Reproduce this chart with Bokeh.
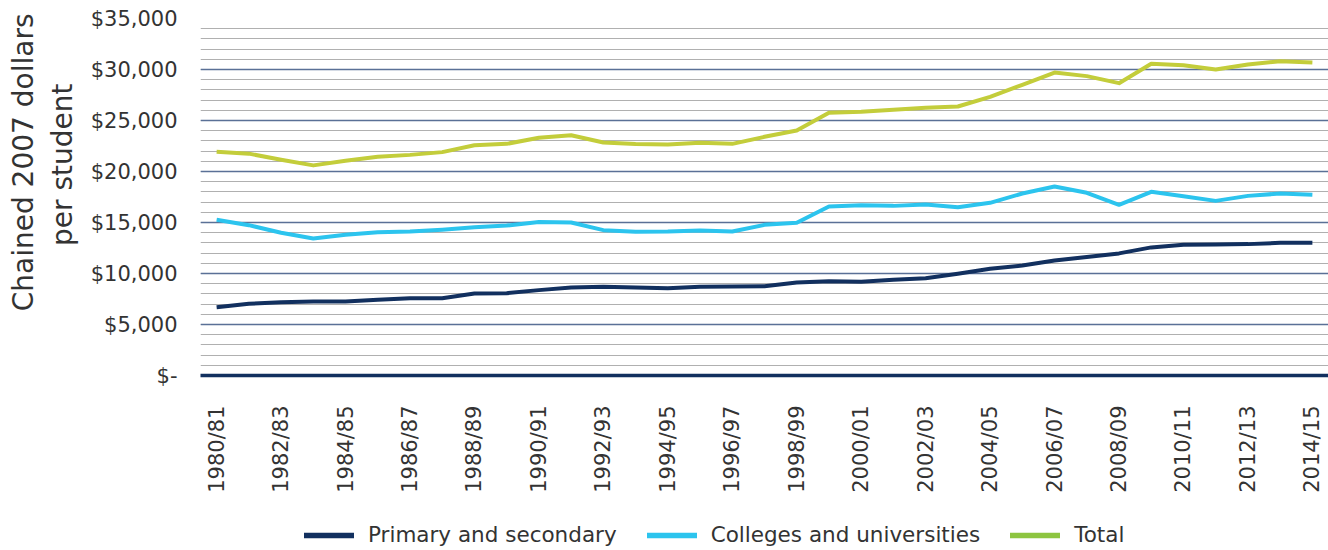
import math
from bokeh.plotting import figure
from bokeh.layouts import column
from bokeh.models import (ColumnDataSource, Range1d, FixedTicker, Title,
                          NumeralTickFormatter, Legend, LegendItem)
from bokeh.embed import file_html
from bokeh.resources import INLINE

# School years, 1980/81 .. 2014/15
years = [f"{y}/{str(y + 1)[-2:]}" for y in range(1980, 2015)]

# Spending per student, chained 2007 dollars
primary_secondary = [6700, 7030, 7190, 7250, 7250, 7420, 7580, 7580, 8040, 8070,
                     8370, 8630, 8690, 8630, 8560, 8690, 8730, 8760, 9120, 9250,
                     9200, 9380, 9540, 9970, 10460, 10780, 11270, 11620, 11970, 12560,
                     12820, 12850, 12880, 13010, 13010]
colleges_universities = [15260, 14740, 13990, 13430, 13790, 14050, 14120, 14300, 14540, 14700,
                         15050, 15000, 14250, 14100, 14120, 14220, 14120, 14770, 14970, 16570,
                         16700, 16630, 16760, 16500, 16930, 17840, 18530, 17910, 16730, 18010,
                         17580, 17120, 17610, 17840, 17710]
total = [21930, 21750, 21150, 20600, 21050, 21440, 21630, 21900, 22580, 22710,
         23300, 23560, 22840, 22700, 22650, 22810, 22710, 23400, 24020, 25750,
         25850, 26050, 26240, 26370, 27320, 28500, 29700, 29350, 28660, 30560,
         30420, 30000, 30490, 30820, 30690]

series_names = ["Primary and secondary", "Colleges and universities", "Total"]
series_cols = ["prim", "coll", "tot"]
line_colors = ["#12305f", "#2cc4ee", "#c3cd3b"]
key_colors = ["#12305f", "#2cc4ee", "#8dc540"]

FONT = "DejaVu Sans"
TEXT = "#333333"

# position of each school year along the x axis
year_pos = list(range(len(years)))

source = ColumnDataSource(dict(pos=year_pos, year=years, prim=primary_secondary,
                               coll=colleges_universities, tot=total))

p = figure(width=1328, height=510, output_backend="svg", toolbar_location=None,
           x_range=Range1d(-0.5, len(years) - 0.5), y_range=Range1d(0, 35000),
           min_border_left=200, min_border_right=0, min_border_top=18,
           min_border_bottom=135)
p.outline_line_color = None
p.background_fill_color = "white"
p.border_fill_color = "white"

for col, color in zip(series_cols, line_colors):
    p.line("pos", col, source=source, line_color=color, line_width=4,
           line_join="round")

# y axis
p.yaxis.ticker = FixedTicker(ticks=list(range(0, 35001, 5000)),
                             minor_ticks=list(range(0, 35001, 1000)))
p.yaxis.formatter = NumeralTickFormatter(format="$0,0")
p.yaxis.major_label_overrides = {0: "$-"}
p.yaxis.axis_line_color = None
p.yaxis.major_tick_line_color = None
p.yaxis.minor_tick_line_color = None
p.yaxis.major_label_standoff = 17
p.yaxis.major_label_text_font = FONT
p.yaxis.major_label_text_font_size = "21px"
p.yaxis.major_label_text_color = TEXT

# two-line y axis title, set a little above the middle
for text, off, gap in [("per student", 65, 18), ("Chained 2007 dollars", -5, -10)]:
    p.add_layout(Title(text=text, align="right", offset=off, text_font=FONT,
                       text_font_size="28px", text_font_style="normal",
                       text_color=TEXT, standoff=gap), "left")

p.ygrid.grid_line_color = "#5a7096"
p.ygrid.grid_line_width = 1.3
p.ygrid.minor_grid_line_color = "#b0b0b0"
p.ygrid.minor_grid_line_width = 1
p.xgrid.grid_line_color = None

# x axis: every other school year labelled
p.xaxis.ticker = FixedTicker(ticks=year_pos[::2])
p.xaxis.major_label_overrides = {i: years[i] for i in year_pos[::2]}
p.xaxis.major_label_orientation = math.pi / 2
p.xaxis.axis_line_color = "#12305f"
p.xaxis.axis_line_width = 3.5
p.xaxis.major_tick_line_color = None
p.xaxis.minor_tick_line_color = None
p.xaxis.major_label_standoff = 24
p.xaxis.major_label_text_font = FONT
p.xaxis.major_label_text_font_size = "21px"
p.xaxis.major_label_text_color = TEXT

# key strip under the chart; its series fall outside the strip's ranges,
# so only the legend keys show
lf = figure(width=1328, height=40, output_backend="svg", toolbar_location=None,
            x_range=Range1d(-2, -1), y_range=Range1d(-2, -1),
            min_border=0)
lf.axis.visible = False
lf.grid.visible = False
lf.outline_line_color = None
key_renderers = [lf.line("pos", col, source=source, line_color=c, line_width=5.5,
                         line_cap="round")
                 for col, c in zip(series_cols, key_colors)]
legend = Legend(items=[LegendItem(label=n, renderers=[r])
                       for n, r in zip(series_names, key_renderers)],
                orientation="horizontal", location=(104, 3),
                label_text_font=FONT, label_text_font_size="21.5px",
                label_text_color=TEXT, glyph_width=50, glyph_height=20,
                label_standoff=14, spacing=30, border_line_color=None,
                background_fill_alpha=0, margin=0, padding=4)
lf.add_layout(legend, "center")

open("out.html", "w").write(file_html(column(p, lf, spacing=0), INLINE))
